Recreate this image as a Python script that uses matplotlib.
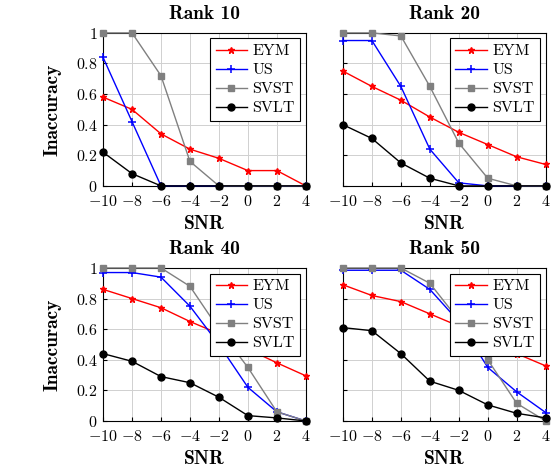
import matplotlib
matplotlib.use('Agg')
import matplotlib.pyplot as plt

plt.rcParams['mathtext.fontset'] = 'cm'
plt.rcParams['font.family'] = 'serif'
plt.rcParams['font.serif'] = ['cmr10']
plt.rcParams['axes.formatter.use_mathtext'] = True
plt.rcParams['axes.unicode_minus'] = False

snr = [-10, -8, -6, -4, -2, 0, 2, 4]
methods = ['EYM', 'US', 'SVST', 'SVLT']

rank10 = {
    'EYM':  [0.58, 0.50, 0.34, 0.24, 0.18, 0.10, 0.10, 0.00],
    'US':   [0.84, 0.42, 0.00, 0.00, 0.00, 0.00, 0.00, 0.00],
    'SVST': [1.00, 1.00, 0.72, 0.16, 0.00, 0.00, 0.00, 0.00],
    'SVLT': [0.22, 0.08, 0.00, 0.00, 0.00, 0.00, 0.00, 0.00],
}
rank20 = {
    'EYM':  [0.75, 0.65, 0.56, 0.45, 0.35, 0.27, 0.19, 0.14],
    'US':   [0.95, 0.95, 0.65, 0.24, 0.02, 0.00, 0.00, 0.00],
    'SVST': [1.00, 1.00, 0.98, 0.65, 0.28, 0.05, 0.00, 0.00],
    'SVLT': [0.40, 0.31, 0.15, 0.05, 0.00, 0.00, 0.00, 0.00],
}
rank40 = {
    'EYM':  [0.86, 0.80, 0.74, 0.65, 0.57, 0.47, 0.38, 0.295],
    'US':   [0.97, 0.97, 0.94, 0.75, 0.50, 0.22, 0.06, 0.00],
    'SVST': [1.00, 1.00, 1.00, 0.88, 0.60, 0.35, 0.06, 0.00],
    'SVLT': [0.44, 0.39, 0.29, 0.25, 0.155, 0.035, 0.02, 0.00],
}
rank50 = {
    'EYM':  [0.89, 0.82, 0.78, 0.70, 0.62, 0.53, 0.44, 0.36],
    'US':   [0.985, 0.985, 0.985, 0.86, 0.65, 0.35, 0.19, 0.055],
    'SVST': [1.00, 1.00, 1.00, 0.90, 0.66, 0.40, 0.115, 0.00],
    'SVLT': [0.61, 0.59, 0.44, 0.26, 0.20, 0.105, 0.05, 0.02],
}
titles = ['Rank 10', 'Rank 20', 'Rank 40', 'Rank 50']
panels = [rank10, rank20, rank40, rank50]
yticks = [0, 0.2, 0.4, 0.6, 0.8, 1]
ylabels = ['0', '0.2', '0.4', '0.6', '0.8', '1']

styles = {
    'EYM':  dict(color='red', marker='*', markersize=5),
    'US':   dict(color='blue', marker='+', markersize=6, markeredgewidth=1.1),
    'SVST': dict(color='gray', marker='s', markersize=4.5),
    'SVLT': dict(color='black', marker='o', markersize=5),
}

fig = plt.figure(figsize=(5.54, 4.73), dpi=100)
boxes = [(0.186, 0.607), (0.619, 0.607), (0.186, 0.110), (0.619, 0.110)]
w, h = 0.366, 0.3235
bold = dict(family='cmb10', fontsize=14)

for i, (data, title) in enumerate(zip(panels, titles)):
    ax = fig.add_axes([boxes[i][0], boxes[i][1], w, h])
    for m in methods:
        ax.plot(snr, data[m], label=m, linewidth=1.0, clip_on=False, zorder=3, **styles[m])
    ax.set_xlim(-10, 4)
    ax.set_ylim(0, 1)
    ax.set_xticks(snr)
    ax.set_xticklabels(['$%d$' % s for s in snr])
    ax.set_yticks(yticks)
    if i % 2 == 0:
        ax.set_yticklabels(['$%s$' % t for t in ylabels])
        ax.set_ylabel('Inaccuracy', labelpad=10, **bold)
    else:
        ax.set_yticklabels([])
    ax.tick_params(direction='in', labelsize=11.5, length=3)
    ax.tick_params(axis='x', pad=6)
    ax.tick_params(axis='y', pad=4)
    ax.grid(True, color='#d0d0d0', linewidth=0.7)
    ax.set_axisbelow(True)
    for sp in ax.spines.values():
        sp.set_linewidth(0.8)
    ax.set_title(title, pad=10, **bold)
    ax.set_xlabel('SNR', labelpad=4, **bold)
    leg = ax.legend(loc='upper right', prop=dict(family='cmr10', size=11.5), fancybox=False,
                    edgecolor='black', framealpha=1, borderaxespad=0.35, handlelength=2.0,
                    handletextpad=0.3, labelspacing=0.3, borderpad=0.35)
    leg.get_frame().set_linewidth(0.8)
    leg.set_zorder(5)

fig.savefig('out.png', dpi=100)
